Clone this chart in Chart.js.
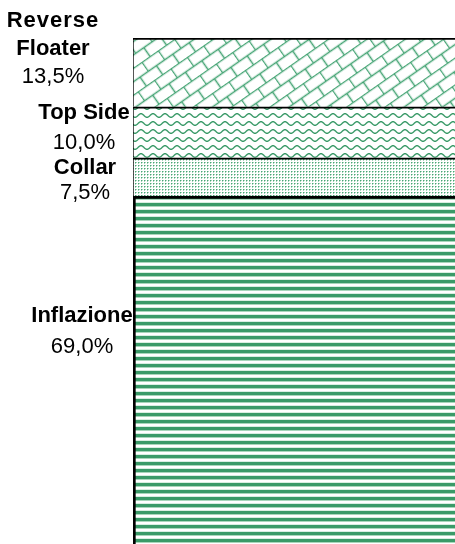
<!DOCTYPE html>
<html>
<head>
<meta charset="utf-8">
<script src="https://cdn.jsdelivr.net/npm/chart.js@4"></script>
<style>
    html, body { margin: 0; padding: 0; background: #fff; overflow: hidden; }
    #box { width: 470px; height: 548px; }
</style>
</head>
<body>
<div id="box"><canvas id="grafico"></canvas></div>
<script>
// dati (dal basso verso l'alto)
const categorie = ['Quota'];
const nomi = ['Inflazione', 'Collar', 'Top Side', 'Reverse Floater'];
const etichette = [['Inflazione'], ['Collar'], ['Top Side'], ['Reverse', 'Floater']];
const valori = [69.0, 7.5, 10.0, 13.5];

const verde = '#3a9a68';

function tile(w, h, disegna) {
    const c = document.createElement('canvas');
    c.width = w;
    c.height = h;
    const g = c.getContext('2d');
    g.fillStyle = '#fff';
    g.fillRect(0, 0, w, h);
    disegna(g);
    return c;
}

function pattern(c, angolo) {
    const p = document.createElement('canvas').getContext('2d').createPattern(c, 'repeat');
    if (angolo) p.setTransform(new DOMMatrix().rotate(angolo));
    return p;
}

// righe orizzontali
const righe = pattern(tile(8, 7, g => {
    g.fillStyle = verde;
    g.fillRect(0, 0, 8, 3);
    g.fillStyle = '#a9d6bb';
    g.fillRect(0, 3, 8, 1);
    g.fillStyle = '#d8eee1';
    g.fillRect(0, 6, 8, 1);
}));

// puntini
const punti = pattern(tile(3, 3, g => {
    g.fillStyle = '#4aa577';
    g.fillRect(0, 0, 1, 1);
    g.fillStyle = '#a6d7ba';
    g.fillRect(1, 0, 1, 1);
    g.fillRect(0, 1, 1, 1);
}));

// onde
const onde = pattern(tile(12, 8, g => {
    g.strokeStyle = verde;
    g.lineWidth = 1.4;
    g.beginPath();
    for (let x = -1; x <= 13; x += 0.5) {
        const y = 3.5 + 1.8 * Math.sin(2 * Math.PI * x / 12);
        if (x === -1) g.moveTo(x, y); else g.lineTo(x, y);
    }
    g.stroke();
}));

// mattoni diagonali
const mattoni = pattern(tile(20, 22, g => {
    g.strokeStyle = '#45a474';
    g.lineWidth = 1.5;
    g.beginPath();
    g.moveTo(0, 0.5); g.lineTo(20, 0.5);
    g.moveTo(0, 11.5); g.lineTo(20, 11.5);
    g.moveTo(0.5, 0); g.lineTo(0.5, 11.5);
    g.moveTo(10.5, 11.5); g.lineTo(10.5, 22);
    g.stroke();
}), -35);

const sfondi = [righe, punti, onde, mattoni];
const bordi = [
    { top: 3, left: 3, right: 0, bottom: 0 },
    { top: 2, left: 1, right: 0, bottom: 0 },
    { top: 2, left: 1, right: 0, bottom: 0 },
    { top: 2, left: 1, right: 0, bottom: 0 }
];

// posizione etichette: x centro, scarto dal centro del segmento, interlinea
const posEtichette = [
    { x: 82, dy: -50, gap: 31 },
    { x: 85, dy: -3, gap: 25 },
    { x: 84, dy: -13, gap: 30 },
    { x: 53, dy: -45, gap: 28 }
];

const etichettePlugin = {
    id: 'etichette',
    afterDraw(chart) {
        const ctx = chart.ctx;
        ctx.save();
        ctx.fillStyle = '#000';
        ctx.textAlign = 'center';
        ctx.textBaseline = 'alphabetic';
        chart.data.datasets.forEach((ds, i) => {
            const el = chart.getDatasetMeta(i).data[0];
            const centro = (el.y + el.base) / 2;
            const p = posEtichette[i];
            let y = centro + p.dy;
            ctx.font = 'bold 22px "Liberation Sans", Arial, sans-serif';
            etichette[i].forEach(riga => {
                ctx.letterSpacing = riga === 'Reverse' ? '1px' : '0px';
                ctx.fillText(riga, p.x, y);
                y += p.gap;
            });
            ctx.letterSpacing = '0px';
            ctx.font = '22px "Liberation Sans", Arial, sans-serif';
            ctx.fillText(ds.data[0].toFixed(1).replace('.', ',') + '%', p.x, y);
        });
        ctx.restore();
    }
};

new Chart(document.getElementById('grafico'), {
    type: 'bar',
    data: {
        labels: categorie,
        datasets: nomi.map((n, i) => ({
            label: n,
            data: [valori[i]],
            backgroundColor: sfondi[i],
            borderColor: '#000',
            borderWidth: bordi[i],
            borderSkipped: false,
            barPercentage: 1,
            categoryPercentage: 1
        }))
    },
    options: {
        responsive: true,
        maintainAspectRatio: false,
        animation: false,
        layout: { padding: { left: 133, top: 38, right: 0, bottom: 0 } },
        scales: {
            x: { stacked: true, display: false },
            y: { stacked: true, display: false, min: 0, max: 100 }
        },
        plugins: {
            legend: { display: false },
            tooltip: { enabled: false }
        }
    },
    plugins: [etichettePlugin]
});
</script>
</body>
</html>
